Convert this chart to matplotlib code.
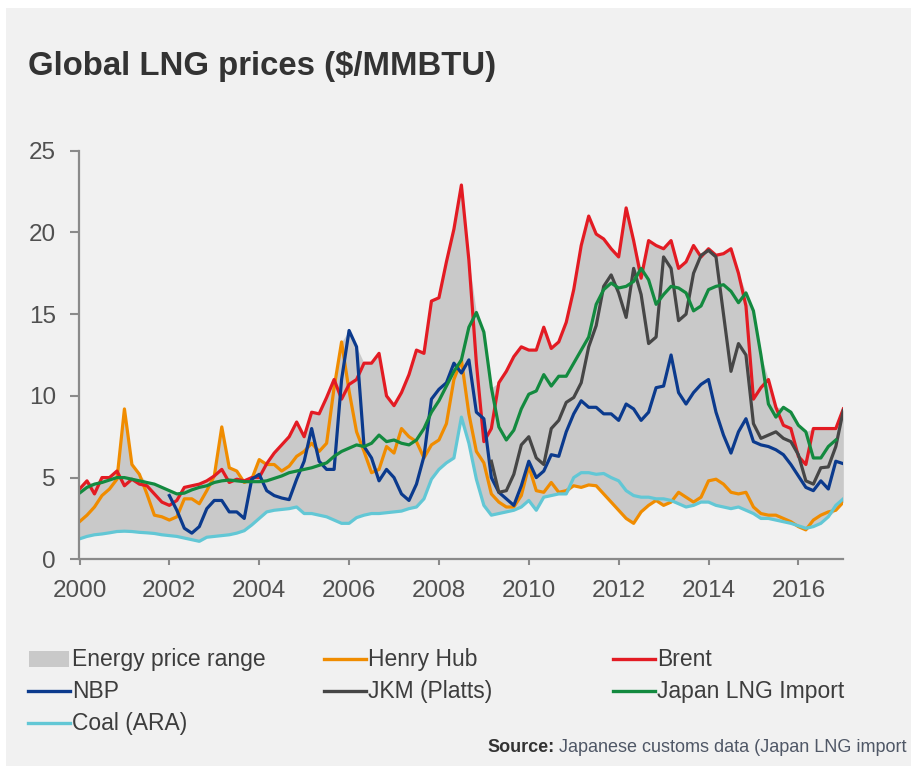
import numpy as np
import matplotlib
matplotlib.use("Agg")
import matplotlib.pyplot as plt
from matplotlib.lines import Line2D
from matplotlib.patches import Rectangle

plt.rcParams['font.family'] = ['Liberation Sans', 'DejaVu Sans']

# one value every two months, Jan 2000 -> Jan 2017
years = 2000 + np.arange(103) / 6.0
year_ticks = [2000, 2002, 2004, 2006, 2008, 2010, 2012, 2014, 2016]
value_ticks = [0, 5, 10, 15, 20, 25]

henry_hub = [2.3, 2.7, 3.2, 3.9, 4.3, 4.9, 9.2, 5.8, 5.2, 4.0, 2.7, 2.6, 2.4, 2.6, 3.7, 3.7, 3.4, 4.2, 5.1, 8.1, 5.6, 5.4, 4.7, 4.9, 6.1,
             5.8, 5.8, 5.4, 5.7, 6.3, 6.6, 7.1, 6.6, 7.1, 10.5, 13.3, 10.3, 7.8, 6.6, 5.3, 5.5, 6.9, 6.5, 8.0, 7.5, 7.2, 6.2, 7.0, 7.3,
             8.3, 11.0, 12.2, 8.9, 6.6, 5.9, 4.0, 3.5, 3.2, 3.2, 3.9, 5.7, 4.2, 4.1, 4.7, 4.1, 4.2, 4.5, 4.4, 4.55, 4.5, 4.0, 3.5, 3.0,
             2.5, 2.2, 2.9, 3.3, 3.6, 3.3, 3.5, 4.1, 3.8, 3.5, 3.8, 4.8, 4.9, 4.6, 4.1, 4.0, 4.1, 3.2, 2.8, 2.7, 2.7, 2.5, 2.3, 2.0,
             1.8, 2.4, 2.7, 2.9, 3.0, 3.5]

brent = [4.3, 4.8, 4.0, 5.0, 5.0, 5.4, 4.5, 4.9, 4.6, 4.5, 4.0, 3.5, 3.3, 3.6, 4.4, 4.5, 4.6, 4.8, 5.1, 5.5, 4.7, 4.9, 4.8, 5.0, 5.0,
         5.85, 6.5, 7.0, 7.5, 8.4, 7.5, 9.0, 8.9, 9.9, 11.0, 9.8, 10.7, 11.0, 12.0, 12.0, 12.6, 10.0, 9.4, 10.2, 11.3, 12.8, 12.6, 15.8, 16.0,
         18.2, 20.2, 22.9, 18.3, 12.0, 7.2, 8.0, 10.8, 11.5, 12.4, 13.0, 12.8, 12.8, 14.2, 12.9, 13.3, 14.5, 16.5, 19.2, 21.0, 19.9, 19.6, 19.0, 18.5,
         21.5, 19.5, 17.2, 19.5, 19.2, 19.0, 19.5, 17.8, 18.2, 19.2, 18.5, 19.0, 18.6, 18.7, 19.0, 17.5, 15.5, 9.8, 10.5, 11.0, 9.3, 8.2,
         8.0, 6.3, 5.8, 8.0, 8.0, 8.0, 8.0, 9.2]

nbp = [None] * 12 + \
      [3.9, 3.0, 1.9, 1.6, 2.0, 3.1, 3.6, 3.6, 2.9, 2.9, 2.5, 4.9, 5.2,
       4.2, 3.9, 3.75, 3.65, 4.9, 6.0, 8.0, 6.0, 5.5, 5.5, 11.0, 14.0, 13.0, 6.9, 6.2, 4.8, 5.5, 5.0, 4.0, 3.6, 4.6, 6.3, 9.8, 10.4,
       10.8, 12.0, 11.4, 12.2, 9.0, 8.6, 5.0, 4.1, 3.7, 3.3, 4.5, 6.0, 5.0, 5.4, 6.4, 6.3, 7.8, 8.9, 9.7, 9.3, 9.3, 8.9, 8.9, 8.5,
       9.5, 9.2, 8.5, 9.0, 10.5, 10.6, 12.5, 10.2, 9.5, 10.2, 10.7, 11.0, 9.0, 7.6, 6.5, 7.8, 8.6, 7.2, 7.0, 6.9, 6.7, 6.4,
       5.8, 5.1, 4.4, 4.2, 4.8, 4.3, 6.0, 5.85]

jkm = [None] * 55 + \
      [6.0, 4.1, 4.2, 5.2, 7.0, 7.5, 6.2, 5.8, 8.0, 8.5, 9.6, 9.9, 10.8, 13.0, 14.3, 16.7, 17.4, 16.3,
       14.8, 17.8, 16.2, 13.2, 13.6, 18.5, 17.8, 14.6, 15.0, 17.5, 18.6, 18.9, 18.5, 15.0, 11.5, 13.2, 12.5, 8.3, 7.4, 7.6,
       7.8, 7.4, 7.2, 6.4, 4.8, 4.6, 5.6, 5.65, 6.9, 9.1]

japan_lng = [4.05, 4.4, 4.6, 4.7, 4.85, 5.0, 5.0, 4.9, 4.8, 4.7, 4.6, 4.4, 4.2, 4.0, 4.05, 4.25, 4.4, 4.5, 4.7, 4.8, 4.85, 4.8, 4.75, 4.75, 4.75,
             4.8, 4.95, 5.1, 5.3, 5.4, 5.5, 5.6, 5.75, 5.9, 6.3, 6.6, 6.8, 7.0, 6.9, 7.1, 7.6, 7.2, 7.3, 7.1, 7.0, 7.3, 8.0, 9.0, 9.7,
             10.6, 11.5, 12.2, 14.2, 15.1, 13.9, 10.5, 8.1, 7.3, 7.9, 9.2, 10.1, 10.3, 11.3, 10.6, 11.2, 11.2, 12.0, 12.8, 13.6, 15.6, 16.5, 16.9, 16.6,
             16.7, 17.0, 17.8, 17.1, 15.6, 16.2, 16.7, 16.6, 16.3, 15.2, 15.5, 16.5, 16.7, 16.8, 16.4, 15.7, 16.3, 15.2, 12.5, 9.5, 8.7, 9.3,
             9.0, 8.2, 7.8, 6.2, 6.2, 6.9, 7.3, None]

coal = [1.25, 1.4, 1.5, 1.55, 1.62, 1.7, 1.72, 1.7, 1.65, 1.62, 1.58, 1.5, 1.45, 1.4, 1.3, 1.2, 1.1, 1.35, 1.4, 1.45, 1.5, 1.6, 1.75, 2.1, 2.5,
        2.9, 3.0, 3.05, 3.1, 3.2, 2.8, 2.8, 2.7, 2.6, 2.4, 2.2, 2.2, 2.55, 2.7, 2.8, 2.8, 2.85, 2.9, 2.95, 3.1, 3.2, 3.7, 4.9, 5.5,
        5.9, 6.2, 8.7, 7.1, 4.9, 3.3, 2.7, 2.8, 2.9, 3.0, 3.2, 3.6, 3.0, 3.8, 3.9, 4.0, 4.0, 5.0, 5.3, 5.3, 5.2, 5.25, 5.0, 4.8,
        4.2, 3.9, 3.8, 3.8, 3.7, 3.7, 3.6, 3.4, 3.2, 3.3, 3.5, 3.5, 3.3, 3.2, 3.1, 3.2, 3.0, 2.8, 2.5, 2.5, 2.4, 2.3,
        2.2, 2.05, 1.9, 2.0, 2.2, 2.6, 3.3, 3.7]

W, H = 912, 766


def fx(px):
    return px / W


def fy(py):
    return 1 - py / H


series = {
    'Henry Hub': (np.array(henry_hub, dtype=float), '#f08c00'),
    'Coal (ARA)': (np.array(coal, dtype=float), '#62c7d5'),
    'Brent': (np.array(brent, dtype=float), '#e31b23'),
    'NBP': (np.array(nbp, dtype=float), '#0b3a8d'),
    'JKM (Platts)': (np.array(jkm, dtype=float), '#464646'),
    'Japan LNG Import': (np.array(japan_lng, dtype=float), '#138a3f'),
}
range_color = '#c9c9c9'

# energy price range = spread between cheapest and dearest series
stack = np.vstack([v[0] for v in series.values()])
low = np.nanmin(stack, axis=0)
high = np.nanmax(stack, axis=0)

fig = plt.figure(figsize=(W / 100, H / 100), dpi=100)
fig.patch.set_facecolor('white')
fig.patches.append(Rectangle((fx(6), 0), 1, fy(8), transform=fig.transFigure,
                             facecolor='#f1f1f1', edgecolor='none', zorder=-10))

ax = fig.add_axes([fx(79.5), fy(559.3), fx(843.3) - fx(79.5), fy(150.7) - fy(559.3)])
ax.set_facecolor('none')

ax.fill_between(years, low, high, color=range_color, linewidth=0, zorder=1)
for name, (vals, col) in series.items():
    ax.plot(years, vals, color=col, lw=2.3, solid_joinstyle='round', zorder=2)

ax.set_xlim(2000, 2017)
ax.set_ylim(0, 25)
ax.set_xticks(year_ticks)
ax.set_yticks(value_ticks)
for s in ['top', 'right']:
    ax.spines[s].set_visible(False)
for s in ['left', 'bottom']:
    ax.spines[s].set_color('#8a8a8a')
    ax.spines[s].set_linewidth(1.6)
ax.tick_params(axis='y', length=6.5, width=1.5, color='#8a8a8a', pad=10.5,
               labelsize=17.5, labelcolor='#505050')
ax.tick_params(axis='x', length=4.3, width=1.5, color='#8a8a8a', pad=10.5,
               labelsize=17.5, labelcolor='#505050')

fig.text(fx(28), fy(75), 'Global LNG prices ($/MMBTU)', fontsize=23.7,
         fontweight='bold', color='#333333', va='baseline')

# legend, laid out row by row like the original
legend_order = ['Energy price range', 'Henry Hub', 'Brent', 'NBP', 'JKM (Platts)',
                'Japan LNG Import', 'Coal (ARA)']
col_x = [28, 324, 613]
row_base = [666, 698, 730]
for i, name in enumerate(legend_order):
    x0 = col_x[i % 3]
    yb = row_base[i // 3]
    yc = yb - 7.5
    if name == 'Energy price range':
        fig.patches.append(Rectangle((fx(x0 + 1), fy(yc + 8)), fx(40), 16 / H,
                                     transform=fig.transFigure, facecolor=range_color,
                                     edgecolor='none'))
    else:
        fig.add_artist(Line2D([fx(x0), fx(x0 + 42)], [fy(yc), fy(yc)],
                              transform=fig.transFigure, color=series[name][1], lw=2.4))
    fig.text(fx(x0 + 44), fy(yb), name, fontsize=16.5, color='#3d3d3d', va='baseline')

t1 = fig.text(fx(487), fy(752), 'Source:', fontsize=13, fontweight='bold',
              color='#333333', va='baseline')
fig.canvas.draw()
bb = t1.get_window_extent()
fig.text(bb.x1 / W, fy(752), ' Japanese customs data (Japan LNG import', fontsize=13,
         color='#4f5766', va='baseline')

fig.savefig('out.png', dpi=100, facecolor='white')
